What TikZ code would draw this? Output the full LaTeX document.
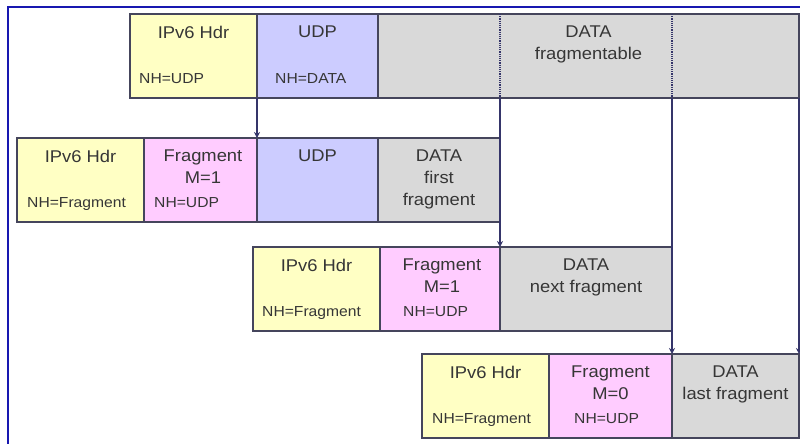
\documentclass[tikz,border=0pt]{standalone}
\usepackage{fontspec}
\setmainfont[FakeStretch=1.08]{Liberation Sans}
\usetikzlibrary{arrows.meta}
\definecolor{hdrfill}{HTML}{FFFFC4}
\definecolor{udpfill}{HTML}{CCCCFF}
\definecolor{fragfill}{HTML}{FFCCFF}
\definecolor{datafill}{HTML}{D9D9D9}
\definecolor{boxline}{HTML}{45455C}
\definecolor{flowline}{HTML}{35356A}
\definecolor{frameline}{HTML}{1818B0}
\definecolor{txt}{HTML}{363636}
\tikzset{
  pkt/.style={draw=boxline, line width=2.2pt, rectangle, inner sep=0pt, outer sep=0pt, minimum height=84pt, anchor=north west},
  head/.style={anchor=north, align=center, text=txt, inner sep=0pt, font=\fontsize{17}{22}\selectfont},
  nh/.style={anchor=base west, text=txt, inner sep=0pt, font=\fontsize{14.5}{16}\selectfont},
  flow/.style={->, line width=1.3pt, draw=flowline},
  cut/.style={densely dotted, line width=1.2pt, draw=flowline},
  frame/.style={line width=2pt, draw=frameline},
}
\begin{document}
\begin{tikzpicture}[x=1pt, y=-1pt, >={Stealth[length=6pt,width=6pt]}]
  \useasboundingbox (0,0) rectangle (800,444);
  % Khung
  \draw[frame] (8,444) -- (8,7) -- (800,7);
  % Goi tin ban dau
  \node[pkt, fill=hdrfill, minimum width=127pt] (r1ip) at (130,14) {};
  \node[pkt, fill=udpfill, minimum width=121pt] (r1udp) at (257,14) {};
  \node[pkt, fill=datafill, minimum width=421pt] (r1data) at (378,14) {};
  \node[head] (r1iph) at (193.5,26) {IPv6 Hdr};
  \node[nh] (r1ipnh) at (139,83) {NH=UDP};
  \node[head] (r1udph) at (317.5,26) {UDP};
  \node[nh] (r1udpnh) at (275,83) {NH=DATA};
  \node[head] (r1datah) at (588.5,26) {DATA\\fragmentable};
  % Manh thu nhat
  \node[pkt, fill=hdrfill, minimum width=127pt] (r2ip) at (17,138) {};
  \node[pkt, fill=fragfill, minimum width=113pt] (r2frag) at (144,138) {};
  \node[pkt, fill=udpfill, minimum width=121pt] (r2udp) at (257,138) {};
  \node[pkt, fill=datafill, minimum width=122pt] (r2data) at (378,138) {};
  \node[head] (r2iph) at (80.5,150) {IPv6 Hdr};
  \node[nh] (r2ipnh) at (27,207) {NH=Fragment};
  \node[head] (r2fragh) at (203,150) {Fragment\\M=1};
  \node[nh] (r2fragnh) at (154,207) {NH=UDP};
  \node[head] (r2udph) at (317.5,150) {UDP};
  \node[head] (r2datah) at (439,150) {DATA\\first\\fragment};
  % Manh tiep theo
  \node[pkt, fill=hdrfill, minimum width=127pt] (r3ip) at (253,247) {};
  \node[pkt, fill=fragfill, minimum width=120pt] (r3frag) at (380,247) {};
  \node[pkt, fill=datafill, minimum width=172pt] (r3data) at (500,247) {};
  \node[head] (r3iph) at (316.5,259) {IPv6 Hdr};
  \node[nh] (r3ipnh) at (262,316) {NH=Fragment};
  \node[head] (r3fragh) at (442,259) {Fragment\\M=1};
  \node[nh] (r3fragnh) at (403,316) {NH=UDP};
  \node[head] (r3datah) at (586,259) {DATA\\next fragment};
  % Manh cuoi
  \node[pkt, fill=hdrfill, minimum width=127pt] (r4ip) at (422,354) {};
  \node[pkt, fill=fragfill, minimum width=123pt] (r4frag) at (549,354) {};
  \node[pkt, fill=datafill, minimum width=127pt] (r4data) at (672,354) {};
  \node[head] (r4iph) at (485.5,366) {IPv6 Hdr};
  \node[nh] (r4ipnh) at (432,423) {NH=Fragment};
  \node[head] (r4fragh) at (610.5,366) {Fragment\\M=0};
  \node[nh] (r4fragnh) at (574,423) {NH=UDP};
  \node[head] (r4datah) at (735.5,366) {DATA\\last fragment};
  % Duong cat trong phan DATA
  \draw[cut] (r3data.north west |- r1data.north) -- (r3data.north west |- r1data.south);
  \draw[cut] (r4data.north west |- r1data.north) -- (r4data.north west |- r1data.south);
  % Mui ten
  \draw[flow] (r1ip.south east) -- (r2udp.north west);
  \draw[flow] (r3data.north west |- r1data.south) -- (r3data.north west);
  \draw[flow] (r4data.north west |- r1data.south) -- (r4data.north west);
  \draw[flow] (r1data.south east) -- (r4data.north east);
\end{tikzpicture}
\end{document}
